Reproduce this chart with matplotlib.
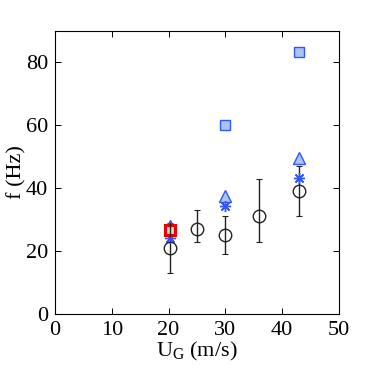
import matplotlib
matplotlib.use("Agg")
import matplotlib.pyplot as plt

# Data
circ_x = [20.3, 25, 30, 36, 43]
circ_y = [21, 27, 25, 31, 39]
circ_lo = [13, 23, 19, 23, 31]
circ_hi = [29, 33, 31, 43, 47]

sq_x = [30, 43]
sq_y = [60, 83.3]

tri_x = [20.3, 30, 43]
tri_y = [28.5, 37.6, 49.4]

ast_x = [20.3, 30, 43]
ast_y = [24.1, 34.3, 43.1]

red_x = [20.3]
red_y = [26.8]

x_ticks = [0, 10, 20, 30, 40, 50]
y_ticks = [0, 20, 40, 60, 80]

plt.rcParams['font.family'] = ['Liberation Serif', 'DejaVu Serif']
plt.rcParams['mathtext.fontset'] = 'custom'
plt.rcParams['mathtext.rm'] = 'Liberation Serif'
plt.rcParams['mathtext.it'] = 'Liberation Serif'

fig = plt.figure(figsize=(3.74, 3.71), dpi=100)
ax = fig.add_axes([55/374, 1 - 314/371, (339-55)/374, (314-30.7)/371])

blue = '#3355ff'
light = '#aac4f5'

yerr = [[y - lo for y, lo in zip(circ_y, circ_lo)], [hi - y for y, hi in zip(circ_y, circ_hi)]]
ax.errorbar(circ_x, circ_y, yerr=yerr, fmt='none', ecolor='#222222', elinewidth=1.0,
            capsize=2, capthick=0.8, zorder=2)
ax.plot(sq_x, sq_y, 's', ms=6.5, mfc=light, mec=blue, mew=1.0, zorder=3)
ax.plot(tri_x[1:], tri_y[1:], '^', ms=9, mfc=light, mec=blue, mew=1.0, zorder=3)
ax.plot(tri_x[:1], tri_y[:1], '^', ms=6, mfc=light, mec=blue, mew=1.0, zorder=3)
ax.plot(ast_x, ast_y, linestyle='none', marker=(8, 2, 0), ms=8, mec=blue, mew=1.0, zorder=3)
ax.plot(circ_x, circ_y, 'o', ms=9, mfc='none', mec='#222222', mew=1.0, zorder=4)
ax.plot(red_x, red_y, 's', ms=7, mfc='#f0d0d0', mec='#ee0000', mew=2.2, zorder=5)
ax.plot([red_x[0], red_x[0]], [red_y[0]-2, red_y[0]+2], color='#222222', lw=1.0, zorder=6)

ax.set_xlim(0, 50)
ax.set_ylim(0, 90)
ax.set_xticks(x_ticks)
ax.set_yticks(y_ticks)
ax.tick_params(direction='in', top=True, right=True, labelsize=16, length=4, width=0.7, pad=5)
for s in ax.spines.values():
    s.set_linewidth(0.8)
ax.set_xlabel('U$_\\mathrm{G}$ (m/s)', fontsize=16, labelpad=0)
ax.set_ylabel('f (Hz)', fontsize=16)
ax.yaxis.set_label_coords(-0.1, 0.5)

fig.savefig('out.png', dpi=100)
